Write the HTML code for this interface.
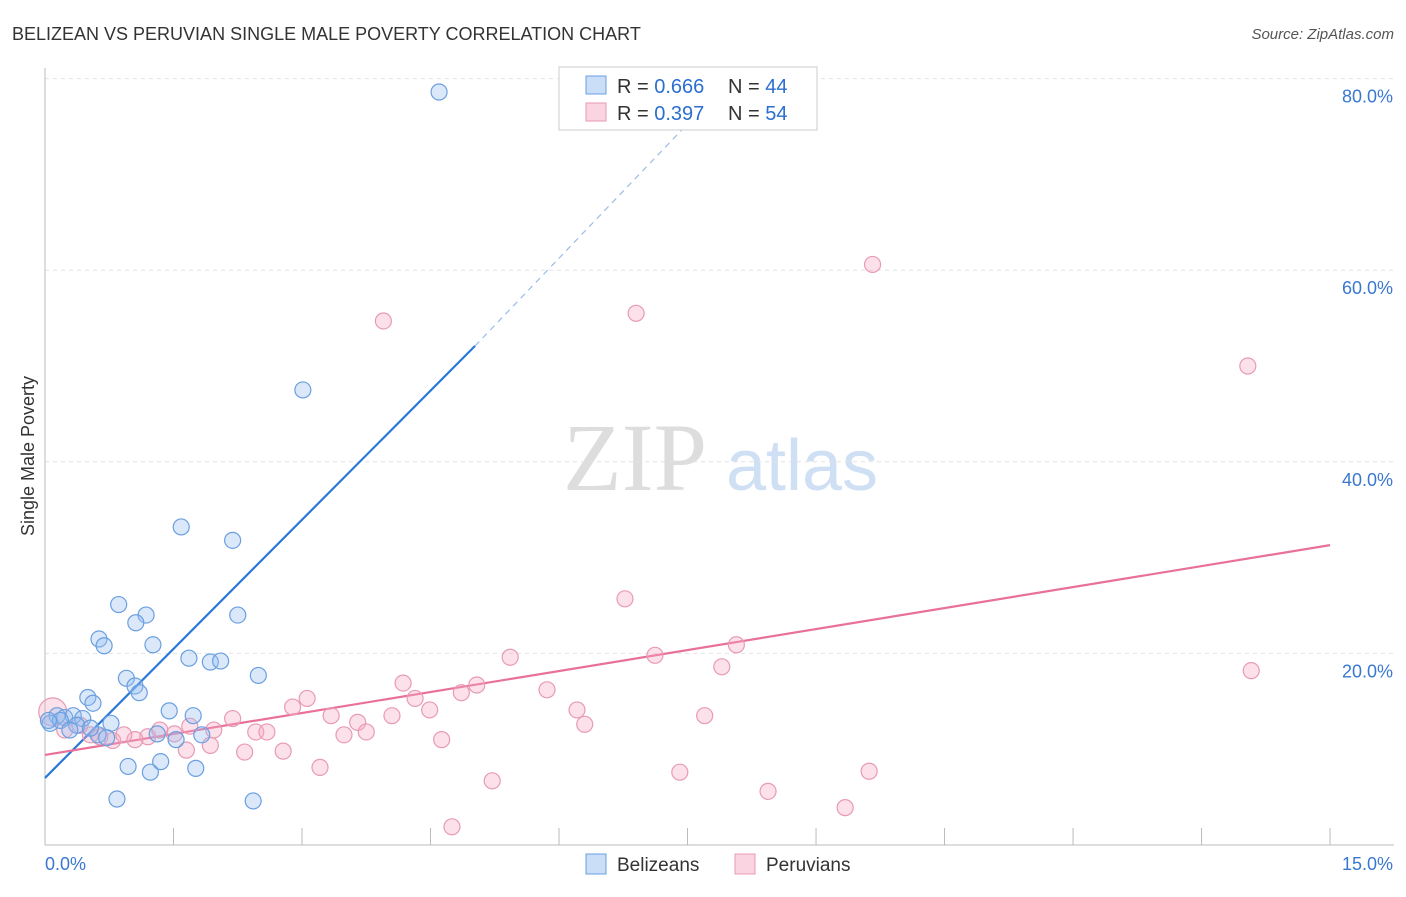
<!DOCTYPE html>
<html><head><meta charset="utf-8"><style>
body{margin:0;background:#fff;font-family:"Liberation Sans",sans-serif}
svg text{font-family:"Liberation Sans",sans-serif}
</style></head><body>
<svg id="chart" width="1406" height="892" viewBox="0 0 1406 892" xmlns="http://www.w3.org/2000/svg">
<text x="12" y="40" font-size="18" fill="#333">BELIZEAN VS PERUVIAN SINGLE MALE POVERTY CORRELATION CHART</text>
<text x="1394" y="39" font-size="15" fill="#555" text-anchor="end" font-style="italic">Source: ZipAtlas.com</text>
<g>
<text x="635" y="490" font-size="96" fill="#ddd" text-anchor="middle" style="font-family:'Liberation Serif',serif">ZIP</text>
<text x="802" y="490" font-size="72" fill="#cfe0f5" text-anchor="middle">atlas</text>
</g>
<g id="grid"></g>
<g id="axes"></g>
<g id="lines"></g>
<g id="points"></g>
<text transform="translate(34,456) rotate(-90)" font-size="18" fill="#333" text-anchor="middle">Single Male Poverty</text>
<g>
<rect x="559" y="67" width="258" height="63" fill="#fff" stroke="#ccc"/>
<rect x="586" y="76" width="20" height="18" fill="rgba(150,190,240,0.5)" stroke="#6a9fe0"/>
<rect x="586" y="103" width="20" height="18" fill="rgba(245,170,195,0.5)" stroke="#e89ab5"/>
<text x="617" y="93" font-size="20" fill="#333">R = <tspan fill="#2a6fd0">0.666</tspan></text>
<text x="728" y="93" font-size="20" fill="#333">N = <tspan fill="#2a6fd0">44</tspan></text>
<text x="617" y="120" font-size="20" fill="#333">R = <tspan fill="#2a6fd0">0.397</tspan></text>
<text x="728" y="120" font-size="20" fill="#333">N = <tspan fill="#2a6fd0">54</tspan></text>
</g>
<g>
<rect x="586" y="854" width="20" height="20" fill="rgba(150,190,240,0.5)" stroke="#6a9fe0"/>
<text x="617" y="871" font-size="19" fill="#333">Belizeans</text>
<rect x="735" y="854" width="20" height="20" fill="rgba(245,170,195,0.5)" stroke="#e89ab5"/>
<text x="766" y="871" font-size="19" fill="#333">Peruvians</text>
</g>
</svg>
<script>
const blueX=[4.60,3.01,1.59,2.19,0.86,1.18,1.06,2.25,0.63,0.69,1.26,1.68,1.93,2.05,2.49,0.95,1.05,1.10,0.50,0.56,1.45,1.73,0.14,0.23,0.33,0.44,0.77,0.06,0.37,0.62,0.72,1.31,1.53,1.83,0.97,1.23,1.35,1.76,0.84,2.43,0.18,0.29,0.53,0.04];
const blueY=[78.6,47.5,33.2,31.8,25.1,24.0,23.2,24.0,21.5,20.8,20.9,19.5,19.1,19.2,17.7,17.4,16.6,15.9,15.4,14.8,14.0,13.5,13.5,13.3,13.5,13.2,12.7,12.7,12.5,11.5,11.2,11.6,11.0,11.5,8.2,7.6,8.7,8.0,4.8,4.6,13.0,12.0,12.2,13.0];
const pinkX=[9.66,3.95,6.90,14.04,6.77,8.07,7.12,5.43,7.90,14.08,4.18,5.04,5.86,3.06,4.32,2.89,4.86,4.49,6.21,7.70,3.34,3.65,4.05,6.30,2.19,1.69,1.97,2.46,2.59,3.49,3.75,1.51,1.20,1.05,0.79,0.92,1.93,2.33,2.78,1.65,4.63,3.21,7.41,9.62,5.22,8.44,9.34,4.75,0.09,0.23,0.41,0.64,1.34,0.53];
const pinkY=[60.6,54.7,55.5,50.0,25.7,20.9,19.8,19.6,18.6,18.2,16.9,16.7,16.2,15.3,15.3,14.4,15.9,14.1,14.1,13.5,13.5,12.8,13.5,12.6,13.2,12.4,12.0,11.8,11.8,11.5,11.8,11.6,11.3,11.0,10.9,11.5,10.4,9.7,9.8,9.9,11.0,8.1,7.6,7.7,6.7,5.6,3.9,1.9,13.9,12.0,12.5,11.3,12.0,11.5];
const blueLine=[[0,7.0],[5.02,52.1],[7.9,79]];
const pinkLine=[[0,9.4],[15,31.3]];
const yTicks=[20,40,60,80];
const xTickVals=[0,1.5,3,4.5,6,7.5,9,10.5,12,13.5,15];
const NS='http://www.w3.org/2000/svg';
const sx=v=>45+v*85.67, sy=v=>845-v*9.58;
function mk(tag,attrs,parent){const e=document.createElementNS(NS,tag);for(const k in attrs)e.setAttribute(k,attrs[k]);parent.appendChild(e);return e;}
const grid=document.getElementById('grid'),axes=document.getElementById('axes'),lines=document.getElementById('lines'),pts=document.getElementById('points');
yTicks.forEach(t=>{
 const l=mk('line',{x1:45,x2:1394,y1:sy(t),y2:sy(t),stroke:'#e2e2e2','stroke-dasharray':'4,4'},grid);
 
 
 const tx=mk('text',{x:1393,y:sy(t)+24,'font-size':18,fill:'#3a78d0','text-anchor':'end'},axes);
 tx.textContent=t.toFixed(1)+'%';
 
 
});
const ax=mk('line',{x1:45,x2:1394,y1:845,y2:845,stroke:'#bbb'},axes);


const ay=mk('line',{x1:45,x2:45,y1:68,y2:845,stroke:'#bbb'},axes);


xTickVals.forEach(t=>{
 const l=mk('line',{x1:sx(t),x2:sx(t),y1:828,y2:845,stroke:'#bbb'},axes);
 
 
});
const xl0=mk('text',{x:45,y:870,'font-size':18,fill:'#3a78d0'},axes);xl0.textContent='0.0%';


const xl1=mk('text',{x:1393,y:870,'font-size':18,fill:'#3a78d0','text-anchor':'end'},axes);xl1.textContent='15.0%';


function dot(x,y,fill,stroke,r){const c=mk('circle',{cx:sx(x),cy:sy(y),r:r,fill:fill,stroke:stroke,'stroke-width':1.2},pts);return c;}
pinkX.forEach((x,i)=>{const c=dot(x,pinkY[i],'rgba(245,170,195,0.35)','#e89ab5',i===48?14:8);
 
 });
blueX.forEach((x,i)=>{const c=dot(x,blueY[i],'rgba(150,190,240,0.35)','#6a9fe0',8);
 
 });
const bl=mk('line',{x1:sx(blueLine[0][0]),y1:sy(blueLine[0][1]),x2:sx(blueLine[1][0]),y2:sy(blueLine[1][1]),stroke:'#2a78d8','stroke-width':2.2},lines);


const bd=mk('line',{x1:sx(blueLine[1][0]),y1:sy(blueLine[1][1]),x2:sx(blueLine[2][0]),y2:sy(blueLine[2][1]),stroke:'#9bbce6','stroke-width':1.2,'stroke-dasharray':'6,5'},lines);


const pl=mk('line',{x1:sx(pinkLine[0][0]),y1:sy(pinkLine[0][1]),x2:sx(pinkLine[1][0]),y2:sy(pinkLine[1][1]),stroke:'#e8709a','stroke-width':2.2},lines);


</script>
</body></html>
